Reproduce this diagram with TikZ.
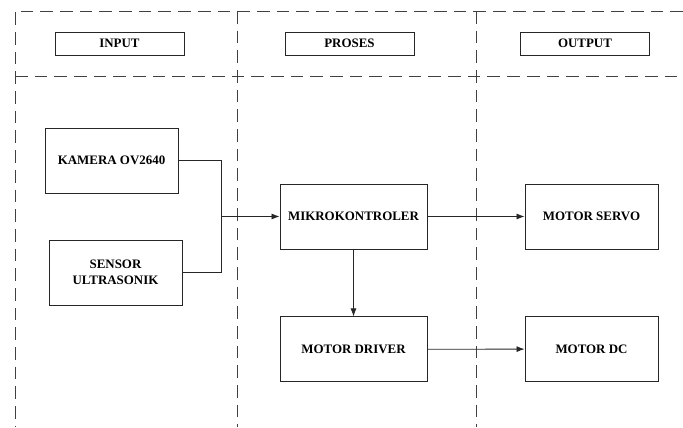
\documentclass[tikz,border=0pt]{standalone}
\usepackage{fontspec}
\setmainfont{Liberation Serif}
\usepackage{tikz}
\usetikzlibrary{arrows.meta,positioning}

\begin{document}
\begin{tikzpicture}[
  x=0.025cm, y=-0.025cm,
  font=\bfseries\fontsize{9.2}{11}\selectfont,
  box/.style={draw=black!85, line width=0.6pt, align=center, minimum width=3.325cm,
    minimum height=1.625cm, inner sep=1pt},
  head/.style={draw=black!85, line width=0.6pt, align=center, minimum width=3.225cm,
    minimum height=0.575cm, inner sep=1pt},
  lane/.style={draw=black!75, line width=0.65pt, dash pattern=on 9pt off 5pt},
  arr/.style={-{Latex[length=2mm,width=1.5mm]}, line width=0.6pt, draw=black!85},
  wire/.style={line width=0.6pt, draw=black!85}
]
\useasboundingbox (0,0) rectangle (683,427);
% lanes
\draw[lane] (683,11) -- (15,11) -- (15,427);
\draw[lane] (15,76) -- (683,76);
\draw[lane] (237,11) -- (237,427);
\draw[lane] (476,11) -- (476,427);
% headers
\node[head] (hinput) at (119.5,43.5) {INPUT};
\node[head] (hproses) at (349.5,43.5) {PROSES};
\node[head] (houtput) at (585,43.5) {OUTPUT};
% blocks
\node[box] (kamera) at (111.5,160.5) {KAMERA OV2640};
\node[box] (sensor) at (115.5,272.5) {SENSOR\\ULTRASONIK};
\node[box, minimum width=3.675cm] (mikro) at (353.5,216.5) {MIKROKONTROLER};
\node[box, minimum width=3.675cm, below=1.675cm of mikro] (driver) {MOTOR DRIVER};
\node[box] (servo) at (591.5,216.5) {MOTOR SERVO};
\node[box] (dc) at (591.5,349) {MOTOR DC};
\coordinate (join) at (221,216.5);
\draw[wire] (kamera.east) -| (join);
\draw[wire] (sensor.east) -| (join);
\draw[arr] (join) -- (mikro.west);
\draw[arr] (mikro) -- (driver);
\draw[arr] (mikro) -- (servo);
\draw[arr] (driver) -- (dc);
\end{tikzpicture}
\end{document}
